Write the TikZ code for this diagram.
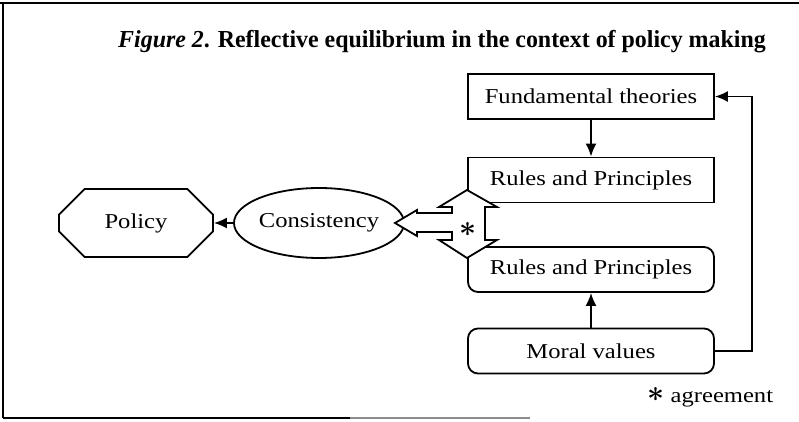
\documentclass[tikz,border=0pt]{standalone}
\usepackage{fontspec}
\setmainfont{Liberation Serif}[FakeStretch=1.16]
\newfontfamily\headfam{Liberation Serif}[FakeStretch=0.98]
\usetikzlibrary{shapes.geometric,shapes.misc,arrows.meta}
\newcommand\diagfont{\fontsize{10.6}{12}\selectfont}
\newcommand\headfont{\headfam\fontsize{12.2}{14}\selectfont\bfseries}
\newcommand\agreemark{\raisebox{0.15ex}{\scalebox{1.35}{\boldmath$\ast$}}}
\begin{document}
\begin{tikzpicture}[x=0.5pt,y=-0.5pt,line width=0.9pt,
  box/.style={draw,rectangle,minimum width=123pt,minimum height=22.5pt,inner sep=0pt,font=\diagfont},
  rbox/.style={box,rounded corners=5pt},
  arr/.style={-{Latex[length=6.5pt,width=5.5pt]}},
  star/.style={inner sep=0pt,font=\diagfont}]
\useasboundingbox (0,0) rectangle (799,422);

% frame
\draw (0,3) -- (799,3);
\draw (3,3) -- (3,418);
\draw (3,418) -- (350,418);
\draw[black!45] (350,418) -- (530,418);

% title
\node[anchor=base,inner sep=0pt] (title) at (442,48)
  {\headfont\textit{Figure 2}. Reflective equilibrium in the context of policy making};

% boxes
\node[box] (ft) at (591,96.5) {Fundamental theories};
\node[box] (r1) at (591,180) {Rules and Principles};
\node[rbox] (r2) at (591,269.5) {Rules and Principles};
\node[rbox] (mv) at (591,351) {Moral values};

\node[draw,chamfered rectangle,chamfered rectangle xsep=8pt,chamfered rectangle ysep=8pt,
  minimum width=77pt,minimum height=34pt,inner sep=0pt,font=\diagfont] (pol) at (136,223) {Policy};
\node[draw,ellipse,minimum width=76pt,minimum height=35pt,inner sep=0pt,font=\diagfont] (cons) at (319,223) {Consistency};

% connectors
\draw[arr] (ft.south) -- (r1.north);
\draw[arr] (mv.north) -- (r2.south);
\draw[arr] (mv.east) -- ++(37,0) |- (ft.east);
\draw[arr] (cons.west) -- (pol.east);

% hollow agreement arrows between the two rule boxes and towards consistency
\draw[fill=white,line join=miter]
  (467,190) -- (439,207) -- (452,207) -- (452,213) -- (417,213) -- (417,210)
  -- (395,223) -- (417,236) -- (417,232) -- (452,232) -- (452,240) -- (439,240)
  -- (467,258) -- (497,240) -- (485,240) -- (485,207) -- (497,207) -- cycle;
\node[star] (agr) at (468,230) {\agreemark};

% legend
\node[anchor=base east,inner sep=0pt,font=\diagfont] (leg) at (774,403)
  {\agreemark\ agreement};
\end{tikzpicture}
\end{document}
